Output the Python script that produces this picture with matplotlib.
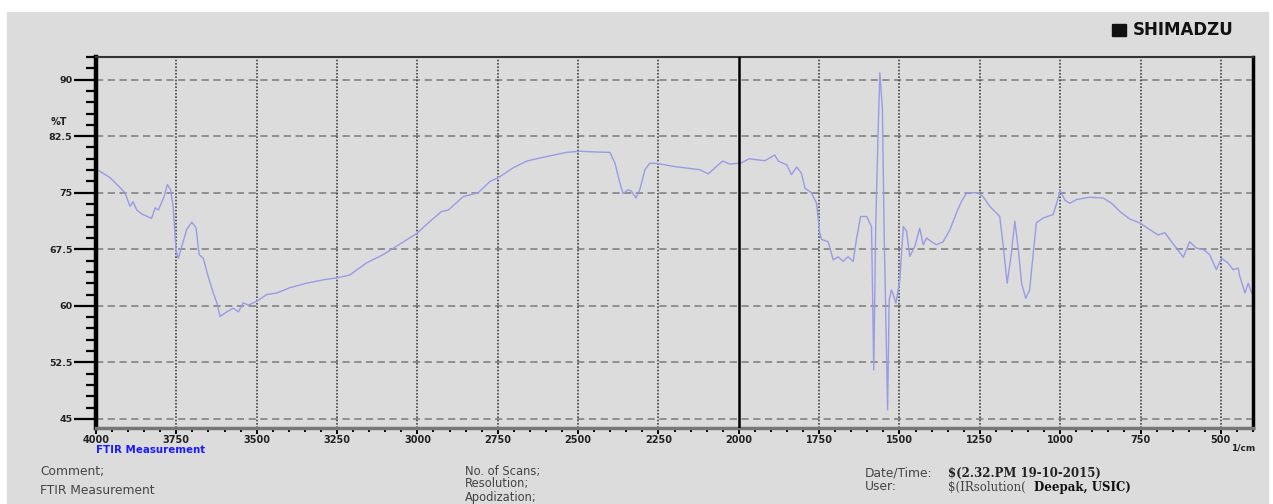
import matplotlib.pyplot as plt
import matplotlib.patches as mpatches
from matplotlib.ticker import MultipleLocator

# spectrum (wavenumber 1/cm, %T)
wavenumber = [4000, 3994, 3956, 3919, 3910, 3894, 3885, 3873, 3858, 3827, 3816, 3806,
              3788, 3778, 3768, 3760, 3751, 3744, 3733, 3718, 3702, 3689, 3679, 3666,
              3651, 3635, 3624, 3614, 3593, 3573, 3557, 3542, 3526, 3500, 3469, 3438,
              3397, 3345, 3293, 3251, 3210, 3158, 3106, 3065, 3002, 2961, 2925, 2904,
              2857, 2811, 2774, 2748, 2702, 2660, 2598, 2536, 2494, 2442, 2401, 2385,
              2370, 2360, 2344, 2334, 2320, 2308, 2292, 2277, 2256, 2204, 2121, 2095,
              2069, 2050, 2028, 2002, 1990, 1968, 1919, 1888, 1877, 1851, 1836, 1820,
              1805, 1794, 1774, 1758, 1748, 1742, 1722, 1706, 1691, 1675, 1660, 1644,
              1634, 1621, 1602, 1587, 1580, 1574, 1566, 1561, 1553, 1548, 1537, 1532,
              1525, 1517, 1511, 1499, 1488, 1478, 1468, 1452, 1437, 1426, 1416, 1400,
              1385, 1364, 1343, 1323, 1307, 1291, 1255, 1240, 1219, 1188, 1177, 1165,
              1153, 1141, 1130, 1120, 1107, 1095, 1084, 1074, 1053, 1022, 1011, 1000,
              985, 970, 949, 908, 866, 840, 814, 783, 752, 721, 695, 674,
              659, 638, 617, 597, 576, 555, 535, 514, 498, 478, 462, 446,
              441, 425, 415, 404]
transmittance = [78.1, 78.0, 77.0, 75.4, 75.0, 73.2, 73.8, 72.7, 72.2, 71.6, 73.0, 72.7,
                 74.5, 76.1, 75.4, 73.2, 67.4, 66.3, 67.9, 70.1, 71.1, 70.4, 66.8, 66.3,
                 63.9, 61.7, 60.4, 58.6, 59.2, 59.7, 59.2, 60.4, 60.1, 60.6, 61.5, 61.7,
                 62.4, 63.0, 63.45, 63.7, 64.1, 65.7, 66.8, 67.9, 69.6, 71.2, 72.5, 72.7,
                 74.5, 75.0, 76.5, 77.0, 78.3, 79.2, 79.8, 80.35, 80.5, 80.4, 80.35, 78.9,
                 76.3, 74.9, 75.4, 75.2, 74.3, 75.4, 78.05, 78.9, 78.9, 78.5, 78.05, 77.5,
                 78.5, 79.2, 78.8, 78.9, 79.0, 79.5, 79.25, 80.0, 79.2, 78.7, 77.4, 78.4,
                 77.6, 75.6, 75.0, 73.6, 69.65, 68.8, 68.5, 66.1, 66.5, 65.9, 66.5, 65.9,
                 68.8, 71.85, 71.85, 70.5, 51.5, 70.5, 83.8, 90.9, 86.0, 70.5, 46.2, 60.8,
                 62.1, 61.2, 60.35, 63.45, 70.5, 69.9, 66.55, 67.9, 70.3, 68.1, 69.0, 68.5,
                 68.1, 68.5, 70.1, 72.3, 73.85, 75.0, 75.0, 74.5, 73.2, 71.85, 67.9, 63.0,
                 66.55, 71.2, 67.4, 63.0, 61.0, 62.1, 66.9, 71.0, 71.65, 72.1, 73.6, 75.3,
                 74.0, 73.6, 74.1, 74.4, 74.3, 73.6, 72.5, 71.5, 71.0, 70.1, 69.4, 69.7,
                 68.8, 67.65, 66.45, 68.5, 67.65, 67.5, 66.8, 64.8, 66.3, 65.7, 64.8, 65.0,
                 63.9, 61.7, 63.0, 61.7]

x_ticks = [4000, 3750, 3500, 3250, 3000, 2750, 2500, 2250, 2000, 1750, 1500, 1250, 1000, 750, 500]
y_ticks = [45, 52.5, 60, 67.5, 75, 82.5, 90]

fig = plt.figure(figsize=(12.73, 5.04), dpi=100)
fig.patches.append(mpatches.Rectangle((7 / 1273, 0), 1261 / 1273, 492 / 504,
                                      transform=fig.transFigure, color='#dcdcdc', zorder=-10))

ax = fig.add_axes([96 / 1273, 1 - 428 / 504, (1253 - 96) / 1273, (428 - 57) / 504])
ax.set_facecolor('#dcdcdc')
ax.plot(wavenumber, transmittance, color='#9a9ae6', lw=1.0)

ax.set_xlim(4000, 400)
ax.set_ylim(43.8, 93.0)
ax.set_xticks(x_ticks)
ax.set_yticks(y_ticks)
ax.xaxis.set_minor_locator(MultipleLocator(50))
ax.yaxis.set_minor_locator(MultipleLocator(1.5))
ax.set_xticklabels([str(t) for t in x_ticks], fontsize=7, fontweight='bold', color='#222')
ax.set_yticklabels(['45', '52.5', '60', '67.5', '75', '82.5', '90'],
                   fontsize=6.8, fontweight='bold', color='#222')
ax.tick_params(axis='y', which='major', direction='out', length=16, width=1.6, pad=1)
ax.tick_params(axis='y', which='minor', direction='out', length=7, width=1.6)
ax.tick_params(axis='x', which='major', direction='out', length=4, width=1.4, pad=1)
ax.tick_params(axis='x', which='minor', direction='out', length=3, width=1.4)

# grid: dashed horizontal, dotted vertical
for yv in y_ticks:
    ax.axhline(yv, color='#8a8a8a', ls=(0, (4, 2.5)), lw=1.3, zorder=0)
for xv in x_ticks[1:]:
    if xv == 2000:
        ax.axvline(xv, color='black', lw=1.8, zorder=3)
    else:
        ax.axvline(xv, color='#444', ls=(0, (1, 1)), lw=1.2, zorder=0)

ax.spines['left'].set_linewidth(3.2)
ax.spines['left'].set_color('black')
ax.spines['right'].set_linewidth(2.5)
ax.spines['right'].set_color('black')
ax.spines['top'].set_linewidth(1.5)
ax.spines['top'].set_color('#333')
ax.spines['bottom'].set_linewidth(2.5)
ax.spines['bottom'].set_color('#777')

ax.text(-0.032, 0.825, '%T', transform=ax.transAxes, fontsize=7, fontweight='bold',
        color='#222', ha='center', va='center')
ax.text(1.002, -0.055, '1/cm', transform=ax.transAxes, fontsize=6.5, fontweight='bold',
        color='#222', ha='right', va='center')
ax.text(0.0, -0.047, 'FTIR Measurement', transform=ax.transAxes, fontsize=7.4,
        fontweight='bold', color='#1a1aff', ha='left', va='top')

# header logo
fig.patches.append(mpatches.Rectangle((1112 / 1273, 1 - 36 / 504), 14 / 1273, 12 / 504,
                                      transform=fig.transFigure, color='#111'))
fig.text(1133 / 1273, 1 - 30 / 504, 'SHIMADZU', fontsize=12, fontweight='heavy',
         color='#111', ha='left', va='center')

# footer text
ft = dict(fontsize=8.8, color='#444', va='center', family='DejaVu Sans')
fig.text(40 / 1273, 1 - 471 / 504, 'Comment;', **ft)
fig.text(40 / 1273, 1 - 490 / 504, 'FTIR Measurement', **ft)
fig.text(465 / 1273, 1 - 471 / 504, 'No. of Scans;', fontsize=8.3, color='#444',
         va='center', family='DejaVu Sans')
fig.text(465 / 1273, 1 - 484 / 504, 'Resolution;', fontsize=8.3, color='#444',
         va='center', family='DejaVu Sans')
fig.text(465 / 1273, 1 - 497 / 504, 'Apodization;', fontsize=8.3, color='#444',
         va='center', family='DejaVu Sans')
fig.text(865 / 1273, 1 - 473 / 504, 'Date/Time:', **ft)
fig.text(865 / 1273, 1 - 487 / 504, 'User:', **ft)
fig.text(948 / 1273, 1 - 473 / 504, '$(2.32.PM 19-10-2015)', fontsize=8.5, color='#222',
         va='center', family='DejaVu Serif', fontweight='bold')
fig.text(948 / 1273, 1 - 487 / 504, '$(IRsolution(', fontsize=8.5, color='#444',
         va='center', family='DejaVu Serif')
fig.text(1034 / 1273, 1 - 487 / 504, 'Deepak, USIC)', fontsize=8.5, color='#111',
         va='center', family='DejaVu Serif', fontweight='bold')

fig.savefig('out.png', dpi=100, facecolor='white')
